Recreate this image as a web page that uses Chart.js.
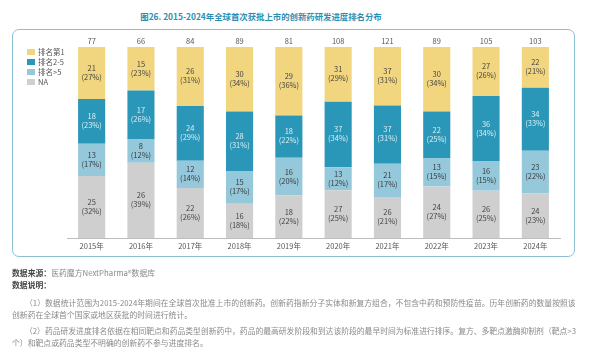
<!DOCTYPE html>
<html><head><meta charset="utf-8">
<script src="https://cdn.jsdelivr.net/npm/chart.js@4/dist/chart.umd.min.js"></script>
<style>
html,body{margin:0;padding:0;background:#fff;width:589px;height:355px;overflow:hidden;font-family:"Noto Sans CJK SC","Noto Sans",sans-serif;}
#title{position:absolute;left:0;width:522px;top:10px;text-align:center;font-size:8.4px;font-weight:bold;color:#2b8fb3;}
#box{position:absolute;left:12px;top:29px;width:561px;height:226px;border:1.2px solid #8cc0d6;border-radius:7px;}
canvas{position:absolute;left:0;top:0;}
#legend{position:absolute;left:27px;top:47px;font-size:7.5px;color:#555;line-height:10px;}
#legend div{display:flex;align-items:center;height:10px;}
#legend span.sw{display:inline-block;width:8px;height:6px;margin-right:3px;}
.foot{position:absolute;font-size:8px;color:#8a8a8a;white-space:nowrap;line-height:12px;}
.foot b{color:#444;}
</style></head>
<body>
<div id="title">图26. 2015-2024年全球首次获批上市的创新药研发进度排名分布</div>
<div id="box"></div>
<canvas id="c" width="589" height="355"></canvas>
<div id="legend"></div>
<div class="foot" style="left:12px;top:267px;"><b>数据来源：</b>医药魔方NextPharma®数据库</div>
<div class="foot" style="left:12px;top:279px;"><b>数据说明：</b></div>
<div class="foot fit" data-w="552" style="left:25px;top:297px;">（1）数据统计范围为2015-2024年期间在全球首次批准上市的创新药。创新药指新分子实体和新复方组合，不包含中药和预防性疫苗。历年创新药的数量按照该</div>
<div class="foot" style="left:12px;top:309px;">创新药在全球首个国家或地区获批的时间进行统计。</div>
<div class="foot fit" data-w="552" style="left:25px;top:325px;">（2）药品研发进度排名依据在相同靶点和药品类型创新药中，药品的最高研发阶段和到达该阶段的最早时间为标准进行排序。复方、多靶点激酶抑制剂（靶点&gt;3</div>
<div class="foot" style="left:12px;top:337px;">个）和靶点或药品类型不明确的创新药不参与进度排名。</div>
<script>
const categories = ["2015年","2016年","2017年","2018年","2019年","2020年","2021年","2022年","2023年","2024年"];
const rank1   = [21,15,26,30,29,31,37,30,27,22];
const rank2to5= [18,17,24,28,18,37,37,22,36,34];
const rankGt5 = [13, 8,12,15,16,13,21,13,16,23];
const rankNA  = [25,26,22,16,18,27,26,24,26,24];
const totals  = [77,66,84,89,81,108,121,89,105,103];

const seriesNames = ["排名第1","排名2-5","排名>5","NA"];
const colors = {"排名第1":"#f2d67f","排名2-5":"#2b97b8","排名>5":"#94c8da","NA":"#cfcfcf"};
const textColors = {"排名第1":"#444","排名2-5":"#d8eef5","排名>5":"#3a3a3a","NA":"#444"};

const raw = {"NA":rankNA,"排名>5":rankGt5,"排名2-5":rank2to5,"排名第1":rank1};
const order = ["NA","排名>5","排名2-5","排名第1"];
const datasets = order.map(name => ({
  label: name,
  data: raw[name].map((v,i)=> v/totals[i]*100),
  counts: raw[name],
  backgroundColor: colors[name],
  borderWidth: 0,
  barPercentage: 0.55,
  categoryPercentage: 1.0
}));

// fit footnote lines
document.querySelectorAll('.fit').forEach(el=>{
  const w = el.getBoundingClientRect().width;
  const target = +el.dataset.w;
  el.style.fontSize = (8*target/w)+'px';
});
const f2 = document.querySelectorAll('.foot:not(.fit)');
const fs = parseFloat(document.querySelector('.fit').style.fontSize);
f2.forEach(el=>el.style.fontSize = fs+'px');

// legend
const lg = document.getElementById('legend');
seriesNames.forEach(n=>{
  const d=document.createElement('div');
  d.innerHTML='<span class="sw" style="background:'+colors[n]+'"></span>'+n;
  lg.appendChild(d);
});

const labelPlugin = {
  id:'labels',
  afterDatasetsDraw(chart){
    const ctx = chart.ctx;
    ctx.save();
    ctx.font = '7.5px "Noto Sans CJK SC","Noto Sans",sans-serif';
    ctx.textAlign='center';
    ctx.textBaseline='middle';
    chart.data.datasets.forEach((ds,di)=>{
      const meta = chart.getDatasetMeta(di);
      meta.data.forEach((bar,i)=>{
        const cnt = ds.counts[i];
        const pct = Math.round(cnt/totals[i]*100);
        const cy = (bar.y + bar.base)/2;
        ctx.fillStyle = textColors[ds.label];
        ctx.fillText(String(cnt), bar.x, cy-5);
        ctx.fillText('('+pct+'%)', bar.x, cy+4);
      });
    });
    const top = chart.getDatasetMeta(chart.data.datasets.length-1);
    ctx.fillStyle='#555';
    top.data.forEach((bar,i)=>{
      ctx.fillText(String(totals[i]), bar.x, bar.y-6);
    });
    ctx.restore();
  }
};

new Chart(document.getElementById('c'), {
  type:'bar',
  data:{labels:categories, datasets},
  options:{
    responsive:false,
    animation:false,
    layout:{padding:{left:67,right:29,top:47,bottom:100}},
    plugins:{legend:{display:false},tooltip:{enabled:false},title:{display:false}},
    scales:{
      x:{stacked:true,
         grid:{display:false,drawTicks:false},
         border:{display:true,color:'#bdbdbd',width:1},
         ticks:{font:{size:7.5,family:'"Noto Sans CJK SC","Noto Sans",sans-serif'},color:'#555',padding:4,maxRotation:0}},
      y:{stacked:true,display:false,min:0,max:100}
    }
  },
  plugins:[labelPlugin]
});
</script>
</body></html>
